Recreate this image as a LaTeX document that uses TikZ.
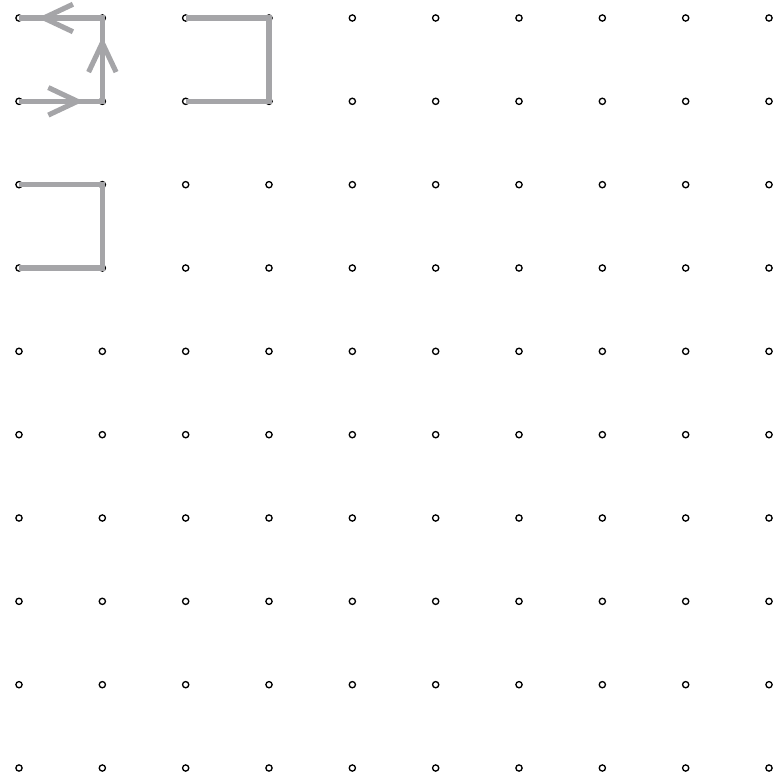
\documentclass[tikz,border=0pt]{standalone}
\usetikzlibrary{arrows.meta, decorations.markings}

\definecolor{pathgray}{RGB}{165,165,168}

\begin{document}
\begin{tikzpicture}[
    x=1cm, y=1cm,
    % Grid points
    dot/.style={circle, draw=black, line width=0.45pt, fill=white, inner sep=0pt, minimum size=0.075cm},
    % Connectors
    wire/.style={draw=pathgray, line width=1.75pt, line join=miter},
    flow/.style={wire, postaction={decorate}, decoration={markings,
        mark=at position 0.258 with {\arrow[pathgray, line width=1.75pt]{Straight Barb[length=0.35cm, width=0.33cm]}},
        mark=at position 0.591 with {\arrow[pathgray, line width=1.75pt]{Straight Barb[length=0.35cm, width=0.33cm]}},
        mark=at position 0.925 with {\arrow[pathgray, line width=1.75pt]{Straight Barb[length=0.35cm, width=0.33cm]}}}},
]
\useasboundingbox (-0.228,0.216) rectangle (9.099,-9.12);

% 1. Dot grid
\foreach \i in {0,...,9}
  \foreach \j in {0,...,9}
    \node[dot] (p-\i-\j) at (\i,-\j) {};

% 2. Closed-up path with arrows
\draw[flow] (p-0-1.center) -- (p-1-1.center) -- (p-1-0.center) -- (p-0-0.center);

% 3. Open brackets
\draw[wire] (p-2-0.center) -- (p-3-0.center) -- (p-3-1.center) -- (p-2-1.center);
\draw[wire] (p-0-2.center) -- (p-1-2.center) -- (p-1-3.center) -- (p-0-3.center);

\end{tikzpicture}
\end{document}
